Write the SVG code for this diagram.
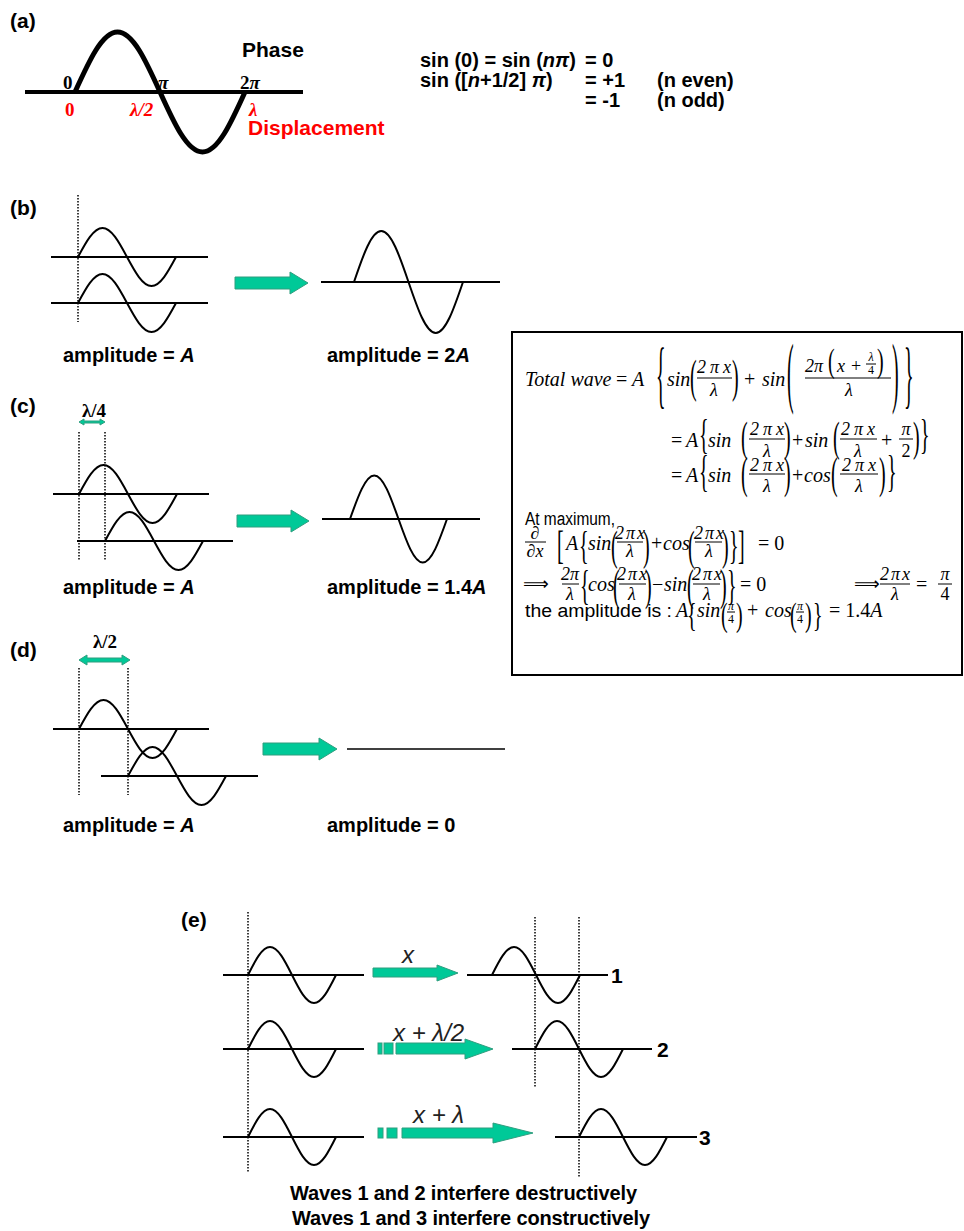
<svg xmlns="http://www.w3.org/2000/svg" xmlns:xlink="http://www.w3.org/1999/xlink" width="964" height="1231" viewBox="0 0 964 1231">
<style>
.lb{font-family:"Liberation Sans",Arial,sans-serif;font-weight:bold;font-size:21px;fill:#000}
.t20{font-family:"Liberation Sans",Arial,sans-serif;font-weight:bold;font-size:20px;fill:#000}
.red{fill:#ff0000}
.sb{font-family:"Liberation Serif","Times New Roman",serif;font-weight:bold;font-size:19px}
.sbi{font-family:"Liberation Serif","Times New Roman",serif;font-weight:bold;font-style:italic;font-size:19px}
.ax{stroke:#000;stroke-width:2;fill:none}
.wv{stroke:#000;stroke-width:2;fill:none}
.dot{stroke:#000;stroke-width:1.5;stroke-dasharray:1.5 1.5;fill:none}
.gr{fill:#00c998;stroke:#2f9e7f;stroke-width:1}
.m{font-family:"Liberation Serif","Times New Roman",serif;font-style:italic;font-size:20px;fill:#000}
.mu{font-family:"Liberation Serif","Times New Roman",serif;font-size:20px;fill:#000}
.mf{font-family:"Liberation Serif","Times New Roman",serif;font-style:italic;font-size:18px;fill:#000}
.mfu{font-family:"Liberation Serif","Times New Roman",serif;font-size:18px;fill:#000}
.ms{font-family:"Liberation Serif","Times New Roman",serif;font-style:italic;font-size:12px;fill:#000}
.msu{font-family:"Liberation Serif","Times New Roman",serif;font-size:12px;fill:#000}
.sa{font-family:"Liberation Sans",Arial,sans-serif;font-size:18px;fill:#000}
.ar{font-family:"DejaVu Sans",sans-serif;font-size:18px;fill:#000}
.bar{stroke:#000;stroke-width:1;fill:none}
.el{font-family:"Liberation Sans",Arial,sans-serif;font-style:italic;font-size:24px;fill:#222}
</style>
<defs>
<path id="w24" class="wv" d="M0,0 c7.99,-14.86 15.63,-29 24.5,-29 c8.87,0 16.51,14.14 24.5,29 c7.99,14.86 15.63,29 24.5,29 c8.87,0 16.51,-14.14 24.5,-29"/>
<path id="w22" class="wv" d="M0,0 c7.17,-14.34 14.04,-28 22,-28 c7.96,0 14.83,13.66 22,28 c7.17,14.34 14.04,28 22,28 c7.96,0 14.83,-13.66 22,-28"/>
</defs>
<rect width="964" height="1231" fill="#fff"/>

<g id="panel-a">
<text class="lb" x="10" y="28">(a)</text>
<line x1="25" y1="92" x2="303" y2="92" stroke="#000" stroke-width="4"/>
<path d="M75,92 c13.86,-30.74 27.12,-60 42.5,-60 c15.38,0 28.64,29.26 42.5,60 c13.86,30.74 27.12,60 42.5,60 c15.38,0 28.64,-29.26 42.5,-60" stroke="#000" stroke-width="5" fill="none"/>
<text class="lb" x="242" y="57">Phase</text>
<text class="sb" x="63" y="89" font-size="20">0</text>
<text class="sbi" x="158" y="89" font-size="20">π</text>
<text class="sb" x="240" y="89" font-size="20">2<tspan class="sbi" font-size="20">π</tspan></text>
<text class="sb red" x="65" y="116" font-size="20">0</text>
<text class="sbi red" x="130" y="116" font-size="20">λ/2</text>
<text class="sbi red" x="249" y="116" font-size="20">λ</text>
<text class="lb red" x="248" y="135">Displacement</text>
</g>

<g id="phase-rules">
<text class="t20" x="420" y="67">sin (0) = sin (<tspan font-style="italic">nπ</tspan>)</text>
<text class="t20" x="585" y="67">= 0</text>
<text class="t20" x="420" y="87">sin ([<tspan font-style="italic">n</tspan>+1/2] <tspan font-style="italic">π</tspan>)</text>
<text class="t20" x="585" y="87">= +1</text>
<text class="t20" x="657" y="87">(n even)</text>
<text class="t20" x="585" y="107">= -1</text>
<text class="t20" x="657" y="107">(n odd)</text>
</g>

<g id="panel-b">
<text class="lb" x="10" y="215">(b)</text>
<line class="dot" x1="78" y1="195" x2="78" y2="322"/>
<line class="ax" x1="51" y1="257" x2="208" y2="257"/>
<use href="#w24" x="78" y="257"/>
<line class="ax" x1="51" y1="303" x2="208" y2="303"/>
<use href="#w24" x="78" y="303"/>
<line class="ax" x1="321" y1="282" x2="500" y2="282"/>
<path class="wv" d="M354,282 c8.89,-26.13 17.39,-51 27.25,-51 c9.86,0 18.36,24.87 27.25,51 c8.89,26.13 17.39,51 27.25,51 c9.86,0 18.36,-24.87 27.25,-51"/>
<text class="t20" x="63" y="362">amplitude = <tspan font-style="italic">A</tspan></text>
<text class="t20" x="327" y="362">amplitude = 2<tspan font-style="italic">A</tspan></text>
</g>

<g id="panel-c">
<text class="lb" x="10" y="413">(c)</text>
<text class="sb" x="82" y="417" font-size="14">λ/4</text>
<polygon class="gr" stroke-width="0.5" points="79,422 84,419 84,421 100,421 100,419 105,422 100,425 100,423 84,423 84,425"/>
<line class="dot" x1="79" y1="432" x2="79" y2="560"/>
<line class="dot" x1="105" y1="432" x2="105" y2="560"/>
<line class="ax" x1="53" y1="494" x2="209" y2="494"/>
<use href="#w24" x="79" y="494"/>
<line class="ax" x1="77" y1="541" x2="233" y2="541"/>
<use href="#w24" x="105" y="541"/>
<line class="ax" x1="322" y1="519" x2="480" y2="519"/>
<path class="wv" d="M350,519 c7.91,-22.29 15.47,-43.5 24.25,-43.5 c8.78,0 16.34,21.21 24.25,43.5 c7.91,22.29 15.47,43.5 24.25,43.5 c8.78,0 16.34,-21.21 24.25,-43.5"/>
<text class="t20" x="63" y="594">amplitude = <tspan font-style="italic">A</tspan></text>
<text class="t20" x="327" y="594">amplitude = 1.4<tspan font-style="italic">A</tspan></text>
</g>

<g id="panel-d">
<text class="lb" x="10" y="657">(d)</text>
<text class="sb" x="93" y="648" font-size="14">λ/2</text>
<polygon class="gr" stroke-width="0.5" points="79,660 87,655 87,658 122,658 122,655 130,660 122,665 122,662 87,662 87,665"/>
<line class="dot" x1="79" y1="668" x2="79" y2="795"/>
<line class="dot" x1="128" y1="668" x2="128" y2="795"/>
<line class="ax" x1="53" y1="729" x2="209" y2="729"/>
<use href="#w24" x="79" y="729"/>
<line class="ax" x1="101" y1="776" x2="258" y2="776"/>
<use href="#w24" x="128" y="776"/>
<line x1="347" y1="749" x2="505" y2="749" stroke="#000" stroke-width="1.5"/>
<text class="t20" x="63" y="832">amplitude = <tspan font-style="italic">A</tspan></text>
<text class="t20" x="327" y="832">amplitude = 0</text>
</g>

<g id="math-box">
<rect x="512" y="332" width="450" height="343" fill="#fff" stroke="#000" stroke-width="2"/>
<!-- line 1 -->
<text class="m" x="525" y="386">Total wave</text>
<text class="mu" x="616" y="386">=</text>
<text class="m" x="632" y="386">A</text>
<text class="mu" transform="translate(656,398.8) scale(1,3.657)">{</text>
<text class="m" x="667" y="386">sin</text>
<text class="mu" transform="translate(690,391.8) scale(1,2.286)">(</text>
<text class="mf" x="714" y="373" text-anchor="middle" textLength="34">2πx</text>
<line class="bar" x1="697" y1="378" x2="732" y2="378"/>
<text class="mf" x="714" y="396" text-anchor="middle">λ</text>
<text class="mu" transform="translate(732,391.8) scale(1,2.286)">)</text>
<text class="mu" x="744" y="386">+</text>
<text class="m" x="762" y="386">sin</text>
<text class="mu" transform="translate(787,397.8) scale(1,3.943)">(</text>
<text class="mf" x="805" y="372">2π</text>
<text class="mu" transform="translate(828,371.8) scale(1,1.714)">(</text>
<text class="mf" x="837" y="372">x</text>
<text class="mfu" x="851" y="372">+</text>
<text class="ms" x="871" y="361" text-anchor="middle">λ</text>
<line class="bar" x1="866" y1="364" x2="876" y2="364"/>
<text class="msu" x="871" y="374" text-anchor="middle">4</text>
<text class="mu" transform="translate(877,371.8) scale(1,1.714)">)</text>
<line class="bar" x1="805" y1="378" x2="891" y2="378"/>
<text class="mf" x="849" y="396" text-anchor="middle">λ</text>
<text class="mu" transform="translate(892,397.8) scale(1,3.943)">)</text>
<text class="mu" transform="translate(904,398.8) scale(1,3.657)">}</text>
<!-- line 2 -->
<text class="mu" x="671" y="447">=</text>
<text class="m" x="686" y="447">A</text>
<text class="mu" transform="translate(699,448.4) scale(1,2.114)">{</text>
<text class="m" x="708" y="447">sin</text>
<text class="mu" transform="translate(741,451.4) scale(1,2.114)">(</text>
<text class="mf" x="767" y="435" text-anchor="middle" textLength="34">2πx</text>
<line class="bar" x1="749" y1="439" x2="785" y2="439"/>
<text class="mf" x="767" y="457" text-anchor="middle">λ</text>
<text class="mu" transform="translate(784,451.4) scale(1,2.114)">)</text>
<text class="mu" x="792" y="447">+</text>
<text class="m" x="805" y="447">sin</text>
<text class="mu" transform="translate(833,451.4) scale(1,2.114)">(</text>
<text class="mf" x="858" y="435" text-anchor="middle" textLength="34">2πx</text>
<line class="bar" x1="840" y1="439" x2="877" y2="439"/>
<text class="mf" x="858" y="457" text-anchor="middle">λ</text>
<text class="mu" x="881" y="447">+</text>
<text class="mf" x="906" y="435" text-anchor="middle">π</text>
<line class="bar" x1="899" y1="439" x2="913" y2="439"/>
<text class="mfu" x="906" y="457" text-anchor="middle">2</text>
<text class="mu" transform="translate(913,451.4) scale(1,2.114)">)</text>
<text class="mu" transform="translate(920,448.4) scale(1,2.114)">}</text>
<!-- line 3 -->
<text class="mu" x="671" y="482">=</text>
<text class="m" x="686" y="482">A</text>
<text class="mu" transform="translate(699,486.2) scale(1,2.171)">{</text>
<text class="m" x="708" y="482">sin</text>
<text class="mu" transform="translate(741,488.2) scale(1,2.171)">(</text>
<text class="mf" x="767" y="471" text-anchor="middle" textLength="34">2πx</text>
<line class="bar" x1="749" y1="474" x2="785" y2="474"/>
<text class="mf" x="767" y="492" text-anchor="middle">λ</text>
<text class="mu" transform="translate(784,488.2) scale(1,2.171)">)</text>
<text class="mu" x="792" y="482">+</text>
<text class="m" x="804" y="482">cos</text>
<text class="mu" transform="translate(831,488.2) scale(1,2.171)">(</text>
<text class="mf" x="859" y="471" text-anchor="middle" textLength="34">2πx</text>
<line class="bar" x1="840" y1="474" x2="878" y2="474"/>
<text class="mf" x="859" y="492" text-anchor="middle">λ</text>
<text class="mu" transform="translate(879,488.2) scale(1,2.171)">)</text>
<text class="mu" transform="translate(887,486.2) scale(1,2.171)">}</text>
<!-- at maximum -->
<text class="sa" x="525" y="525" textLength="90" lengthAdjust="spacingAndGlyphs">At maximum,</text>
<text class="mf" x="535" y="539" text-anchor="middle">∂</text>
<line class="bar" x1="525" y1="542" x2="546" y2="542"/>
<text class="mf" x="535" y="557" text-anchor="middle">∂x</text>
<text class="mu" transform="translate(557,558.8) scale(1,2)">[</text>
<text class="m" x="566" y="550">A</text>
<text class="mu" transform="translate(579,558.8) scale(1,2)">{</text>
<text class="m" x="588" y="550">sin</text>
<text class="mu" transform="translate(611,560.4) scale(1,2.114)">(</text>
<text class="mf" x="630" y="539" text-anchor="middle" textLength="30">2πx</text>
<line class="bar" x1="617" y1="542" x2="643" y2="542"/>
<text class="mf" x="630" y="557" text-anchor="middle">λ</text>
<text class="mu" transform="translate(643,560.4) scale(1,2.114)">)</text>
<text class="mu" x="651" y="550">+</text>
<text class="m" x="663" y="550">cos</text>
<text class="mu" transform="translate(688,560.4) scale(1,2.114)">(</text>
<text class="mf" x="709" y="539" text-anchor="middle" textLength="30">2πx</text>
<line class="bar" x1="695" y1="542" x2="722" y2="542"/>
<text class="mf" x="709" y="557" text-anchor="middle">λ</text>
<text class="mu" transform="translate(722,560.4) scale(1,2.114)">)</text>
<text class="mu" transform="translate(729,558.8) scale(1,2)">}</text>
<text class="mu" transform="translate(738,558.8) scale(1,2)">]</text>
<text class="mu" x="758" y="550">= 0</text>
<!-- implies row -->
<text class="ar" x="523" y="590">⟹</text>
<text class="mf" x="570" y="580" text-anchor="middle">2π</text>
<line class="bar" x1="562" y1="584" x2="579" y2="584"/>
<text class="mf" x="570" y="600" text-anchor="middle">λ</text>
<text class="mu" transform="translate(580,598.6) scale(1,2.057)">{</text>
<text class="m" x="588" y="591">cos</text>
<text class="mu" transform="translate(613,600.2) scale(1,2.171)">(</text>
<text class="mf" x="632" y="580" text-anchor="middle" textLength="30">2πx</text>
<line class="bar" x1="619" y1="584" x2="646" y2="584"/>
<text class="mf" x="632" y="600" text-anchor="middle">λ</text>
<text class="mu" transform="translate(645,600.2) scale(1,2.171)">)</text>
<text class="mu" x="652" y="591">−</text>
<text class="m" x="664" y="591">sin</text>
<text class="mu" transform="translate(687,600.2) scale(1,2.171)">(</text>
<text class="mf" x="707" y="580" text-anchor="middle" textLength="30">2πx</text>
<line class="bar" x1="693" y1="584" x2="720" y2="584"/>
<text class="mf" x="707" y="600" text-anchor="middle">λ</text>
<text class="mu" transform="translate(720,600.2) scale(1,2.171)">)</text>
<text class="mu" transform="translate(727,598.6) scale(1,2.057)">}</text>
<text class="mu" x="740" y="591">= 0</text>
<text class="ar" x="854" y="590">⟹</text>
<text class="mf" x="895" y="580" text-anchor="middle" textLength="30">2πx</text>
<line class="bar" x1="880" y1="584" x2="910" y2="584"/>
<text class="mf" x="895" y="600" text-anchor="middle">λ</text>
<text class="mu" x="916" y="591">=</text>
<text class="mf" x="945" y="580" text-anchor="middle">π</text>
<line class="bar" x1="938" y1="584" x2="952" y2="584"/>
<text class="mfu" x="945" y="600" text-anchor="middle">4</text>
<!-- amplitude row -->
<text class="sa" x="525" y="617" textLength="147" lengthAdjust="spacingAndGlyphs">the amplitude is :</text>
<text class="m" x="676" y="617">A</text>
<text class="mu" transform="translate(687,625.8) scale(1,1.714)">{</text>
<text class="m" x="697" y="617">sin</text>
<text class="mu" transform="translate(721,626) scale(1,1.657)">(</text>
<text class="ms" x="731" y="610" text-anchor="middle">π</text>
<line class="bar" x1="727" y1="612" x2="735" y2="612"/>
<text class="msu" x="731" y="623" text-anchor="middle">4</text>
<text class="mu" transform="translate(736,626) scale(1,1.657)">)</text>
<text class="mu" x="747" y="617">+</text>
<text class="m" x="765" y="617">cos</text>
<text class="mu" transform="translate(790,626) scale(1,1.657)">(</text>
<text class="ms" x="800" y="610" text-anchor="middle">π</text>
<line class="bar" x1="796" y1="612" x2="804" y2="612"/>
<text class="msu" x="800" y="623" text-anchor="middle">4</text>
<text class="mu" transform="translate(805,626) scale(1,1.657)">)</text>
<text class="mu" transform="translate(813,625.8) scale(1,1.714)">}</text>
<text class="mu" x="829" y="617">= 1.4<tspan font-style="italic">A</tspan></text>
</g>

<g id="panel-e">
<text class="lb" x="181" y="927">(e)</text>
<line class="dot" x1="248" y1="912" x2="248" y2="1172"/>
<line class="dot" x1="535" y1="917" x2="535" y2="1087"/>
<line class="dot" x1="579" y1="917" x2="579" y2="1177"/>
<line class="ax" x1="223" y1="975" x2="364" y2="975"/>
<use href="#w22" x="248" y="975"/>
<line class="ax" x1="467" y1="975" x2="608" y2="975"/>
<use href="#w22" x="492" y="975"/>
<text class="lb" x="611" y="983" font-size="25">1</text>
<line class="ax" x1="223" y1="1049" x2="364" y2="1049"/>
<use href="#w22" x="248" y="1049"/>
<line class="ax" x1="512" y1="1049" x2="652" y2="1049"/>
<use href="#w22" x="535" y="1049"/>
<text class="lb" x="657" y="1057" font-size="25">2</text>
<line class="ax" x1="223" y1="1137" x2="364" y2="1137"/>
<use href="#w22" x="248" y="1137"/>
<line class="ax" x1="555" y1="1137" x2="697" y2="1137"/>
<use href="#w22" x="579" y="1137"/>
<text class="lb" x="699" y="1145" font-size="25">3</text>
<text class="el" x="402" y="963">x</text>
<text class="el" x="393" y="1041">x + λ/2</text>
<text class="el" x="413" y="1123">x + λ</text>
<text class="t20" x="290" y="1200" textLength="347">Waves 1 and 2 interfere destructively</text>
<text class="t20" x="292" y="1225" textLength="358">Waves 1 and 3 interfere constructively</text>
</g>

<g id="connectors">
<polygon class="gr" points="235,277 290,277 290,272 308,283 290,294 290,289 235,289"/>
<polygon class="gr" points="237,515 291,515 291,510 309,521 291,532 291,527 237,527"/>
<polygon class="gr" points="263,743 319,743 319,738 337,749 319,760 319,755 263,755"/>
<polygon class="gr" points="373,968 437,968 437,965 458,973 437,981 437,977 373,977"/>
<rect class="gr" x="378" y="1043" width="4" height="11"/>
<rect class="gr" x="384" y="1043" width="9" height="11"/>
<polygon class="gr" points="396,1043 465,1043 465,1039 493,1049 465,1059 465,1054 396,1054"/>
<rect class="gr" x="378" y="1128" width="5" height="10"/>
<rect class="gr" x="387" y="1128" width="10" height="10"/>
<polygon class="gr" points="402,1128 493,1128 493,1123 533,1133 493,1143 493,1138 402,1138"/>
</g>
</svg>
